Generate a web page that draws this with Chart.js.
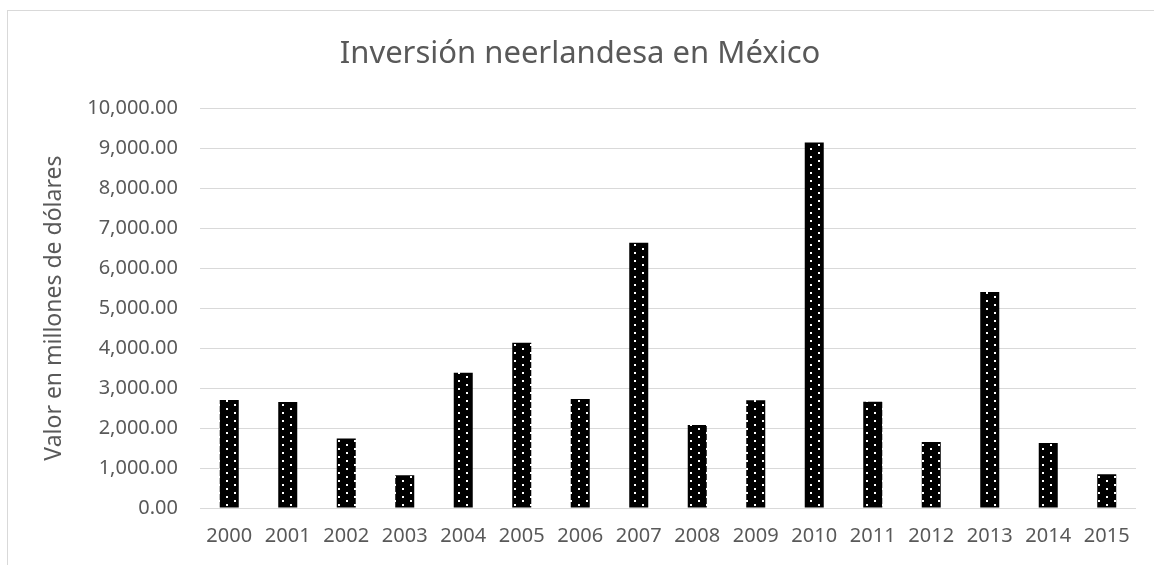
<!DOCTYPE html>
<html lang="es">
<head>
  <meta charset="UTF-8">
  <title>Inversión neerlandesa en México</title>
  <script src="https://cdn.jsdelivr.net/npm/chart.js"></script>
  <style>
    html, body { margin: 0; padding: 0; background: #fff; }
    #frame {
      position: absolute; left: 7px; top: 10px; width: 1160px; height: 570px;
      border-top: 1px solid #d9d9d9; border-left: 1px solid #d9d9d9;
    }
    #statsChart { position: absolute; left: 0; top: 0; }
  </style>
</head>
<body>
  <div id="frame"></div>
  <canvas id="statsChart" width="1154" height="565"></canvas>

  <script>
    const years = ['2000', '2001', '2002', '2003', '2004', '2005', '2006', '2007',
                   '2008', '2009', '2010', '2011', '2012', '2013', '2014', '2015'];
    const values = [2700, 2650, 1740, 817, 3383, 4133, 2725, 6633,
                    2075, 2692, 9142, 2658, 1650, 5400, 1625, 842];

    const textColor = '#595959';
    const fontFamily = "'Noto Sans', 'Open Sans', sans-serif";

    // black fill with staggered white dots, like the Excel pattern fill
    function dotPattern() {
      const c = document.createElement('canvas');
      c.width = 16;
      c.height = 8;
      const g = c.getContext('2d');
      g.fillStyle = '#000';
      g.fillRect(0, 0, 16, 8);
      g.fillStyle = '#fff';
      g.fillRect(2, 0, 2, 2);
      g.fillRect(10, 4, 2, 2);
      return g.createPattern(c, 'repeat');
    }

    const ctx = document.getElementById('statsChart').getContext('2d');
    const statsChart = new Chart(ctx, {
      type: 'bar',
      data: {
        labels: years,
        datasets: [{
          data: values,
          backgroundColor: dotPattern(),
          borderWidth: 0,
          barPercentage: 0.325,
          categoryPercentage: 1
        }]
      },
      options: {
        responsive: false,
        animation: false,
        layout: { padding: { left: 24, right: 18, top: 0, bottom: 0 } },
        plugins: {
          legend: { display: false },
          tooltip: { enabled: false },
          title: {
            display: true,
            text: 'Inversión neerlandesa en México',
            color: textColor,
            font: { family: fontFamily, size: 31, weight: 'normal' },
            padding: { top: 36, bottom: 35 }
          }
        },
        scales: {
          x: {
            grid: { display: false, drawTicks: false },
            border: { display: false },
            ticks: {
              color: textColor,
              font: { family: fontFamily, size: 20 },
              padding: 16,
              maxRotation: 0
            },
            afterFit: axis => { axis.height = 57; }
          },
          y: {
            min: 0,
            max: 10000,
            grid: { color: '#d9d9d9', lineWidth: 1, drawTicks: false },
            border: { display: false },
            ticks: {
              stepSize: 1000,
              color: textColor,
              font: { family: fontFamily, size: 20 },
              padding: 22,
              callback: v => v.toLocaleString('en-US', { minimumFractionDigits: 2, maximumFractionDigits: 2 })
            },
            title: {
              display: true,
              text: 'Valor en millones de dólares',
              color: textColor,
              font: { family: fontFamily, size: 23 },
              padding: { top: 17, bottom: 0 }
            },
            afterFit: axis => { axis.width = 176; }
          }
        }
      }
    });
  </script>
</body>
</html>
